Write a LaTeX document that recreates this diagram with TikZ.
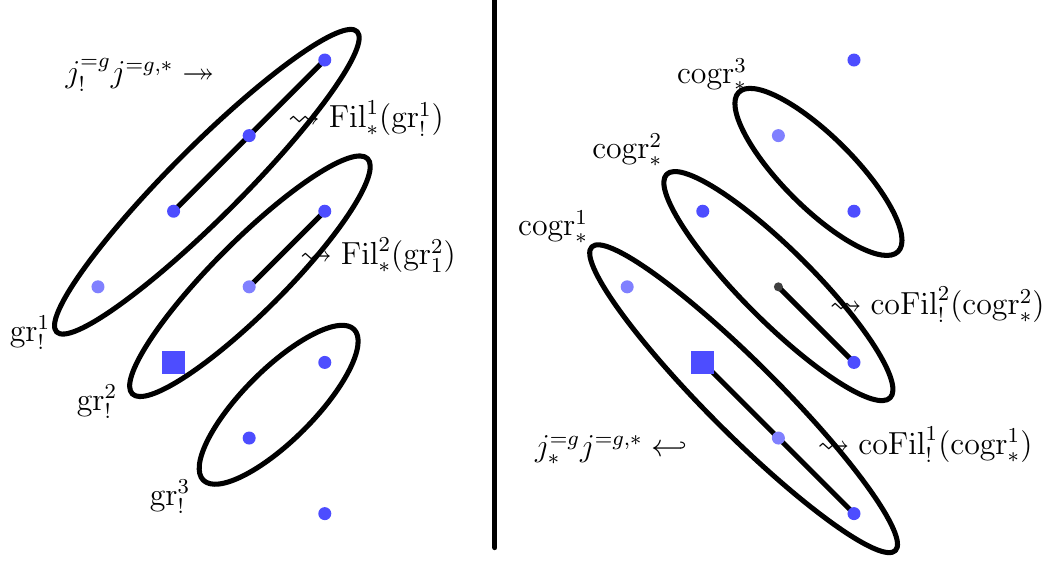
\documentclass[tikz,border=0pt]{standalone}
\usepackage{amsmath,amssymb}
\usetikzlibrary{positioning,backgrounds}
\definecolor{fg}{RGB}{0,0,0}
\definecolor{pt}{RGB}{77,77,255}
\definecolor{ptl}{RGB}{128,128,255}
\definecolor{ptd}{RGB}{64,64,64}
\tikzset{
  every picture/.style={fg, line width=1.9pt, line cap=round, line join=round},
  every node/.style={font=\fontsize{12}{14}\selectfont},
  % Punkte
  dot/.style={circle, fill=pt, inner sep=0pt, minimum size=4.9pt},
  dotl/.style={dot, fill=ptl},
  dotd/.style={dot, fill=ptd, minimum size=3.4pt},
  sq/.style={rectangle, fill=pt, inner sep=0pt, minimum size=8.7pt},
  % Linien
  link/.style={line width=1.9pt},
  blob/.style={line width=1.9pt},
}

\begin{document}
\begin{tikzpicture}
  \useasboundingbox (-1.296,-0.627) rectangle (12.553,6.794);
  % linke Seite: Punkte
  \node[dot]  (a0) at (3,6) {};
  \node[dot]  (a1) at (2,5) {};
  \node[dot]  (a2) at (1,4) {};
  \node[dotl] (a3) at (0,3) {};
  \node[dot]  (b0) at (3,4) {};
  \node[dotl] (b1) at (2,3) {};
  \node[sq]   (b2) at (1,2) {};
  \node[dot]  (c0) at (3,2) {};
  \node[dot]  (c1) at (2,1) {};
  \node[dot]  (d0) at (3,0) {};
  % rechte Seite: Punkte
  \node[dot]  (p0) at (10,6) {};
  \node[dotl] (p1) at (9,5) {};
  \node[dot]  (p2) at (10,4) {};
  \node[dot]  (q0) at (8,4) {};
  \node[dotd] (q1) at (9,3) {};
  \node[dot]  (q2) at (10,2) {};
  \node[dotl] (r0) at (7,3) {};
  \node[sq]   (r1) at (8,2) {};
  \node[dotl] (r2) at (9,1) {};
  \node[dot]  (r3) at (10,0) {};
  % Verbindungen hinter den Punkten
  \begin{scope}[on background layer]
    \draw[link] (a2.center) -- (a0.center);
    \draw[link] (b1.center) -- (b0.center);
    \draw[link] (q1.center) -- (q2.center);
    \draw[link] (r1.center) -- (r3.center);
  \end{scope}
  % Ellipsen: Mitte, Halbachse, Winkel
  \foreach \cx/\cy/\a/\w in {1.44/4.39/2.81/45, 2.01/3.14/2.2/45, 2.39/1.44/1.41/45,
      9.53/4.52/1.49/-45, 9.0/3.01/2.09/-45, 8.54/1.52/2.84/-45} {
    \draw[blob, rotate around={\w:(\cx,\cy)}] (\cx,\cy) ellipse ({\a} and 0.47);
  }
  % Trennlinie
  \draw (5.25,6.8) -- (5.25,-0.45);
  % Beschriftung links
  \node (jl)  at (0.556,5.80) {$j_!^{=g}j^{=g,*}\twoheadrightarrow$};
  \node (f1)  at (3.545,5.23) {$\rightsquigarrow\mathrm{Fil}^1_*(\mathrm{gr}^1_!)$};
  \node (f2)  at (3.704,3.42) {$\rightsquigarrow\mathrm{Fil}^2_*(\mathrm{gr}^2_1)$};
  \node (g1)  at (-0.899,2.39) {$\mathrm{gr}^1_!$};
  \node (g2)  at (-0.013,1.48) {$\mathrm{gr}^2_!$};
  \node (g3)  at (0.952,0.22) {$\mathrm{gr}^3_!$};
  % Beschriftung rechts
  \node (cg3) at (8.122,5.80) {$\mathrm{cogr}^3_*$};
  \node (cg2) at (7.0,4.81) {$\mathrm{cogr}^2_*$};
  \node (cg1) at (6.02,3.79) {$\mathrm{cogr}^1_*$};
  \node (cf2) at (11.1,2.76) {$\rightsquigarrow\mathrm{coFil}^2_!(\mathrm{cogr}^2_*)$};
  \node (cf1) at (10.94,0.91) {$\rightsquigarrow\mathrm{coFil}^1_!(\mathrm{cogr}^1_*)$};
  \node (jr)  at (6.786,0.84) {$j_*^{=g}j^{=g,*}\hookleftarrow$};
\end{tikzpicture}
\end{document}
